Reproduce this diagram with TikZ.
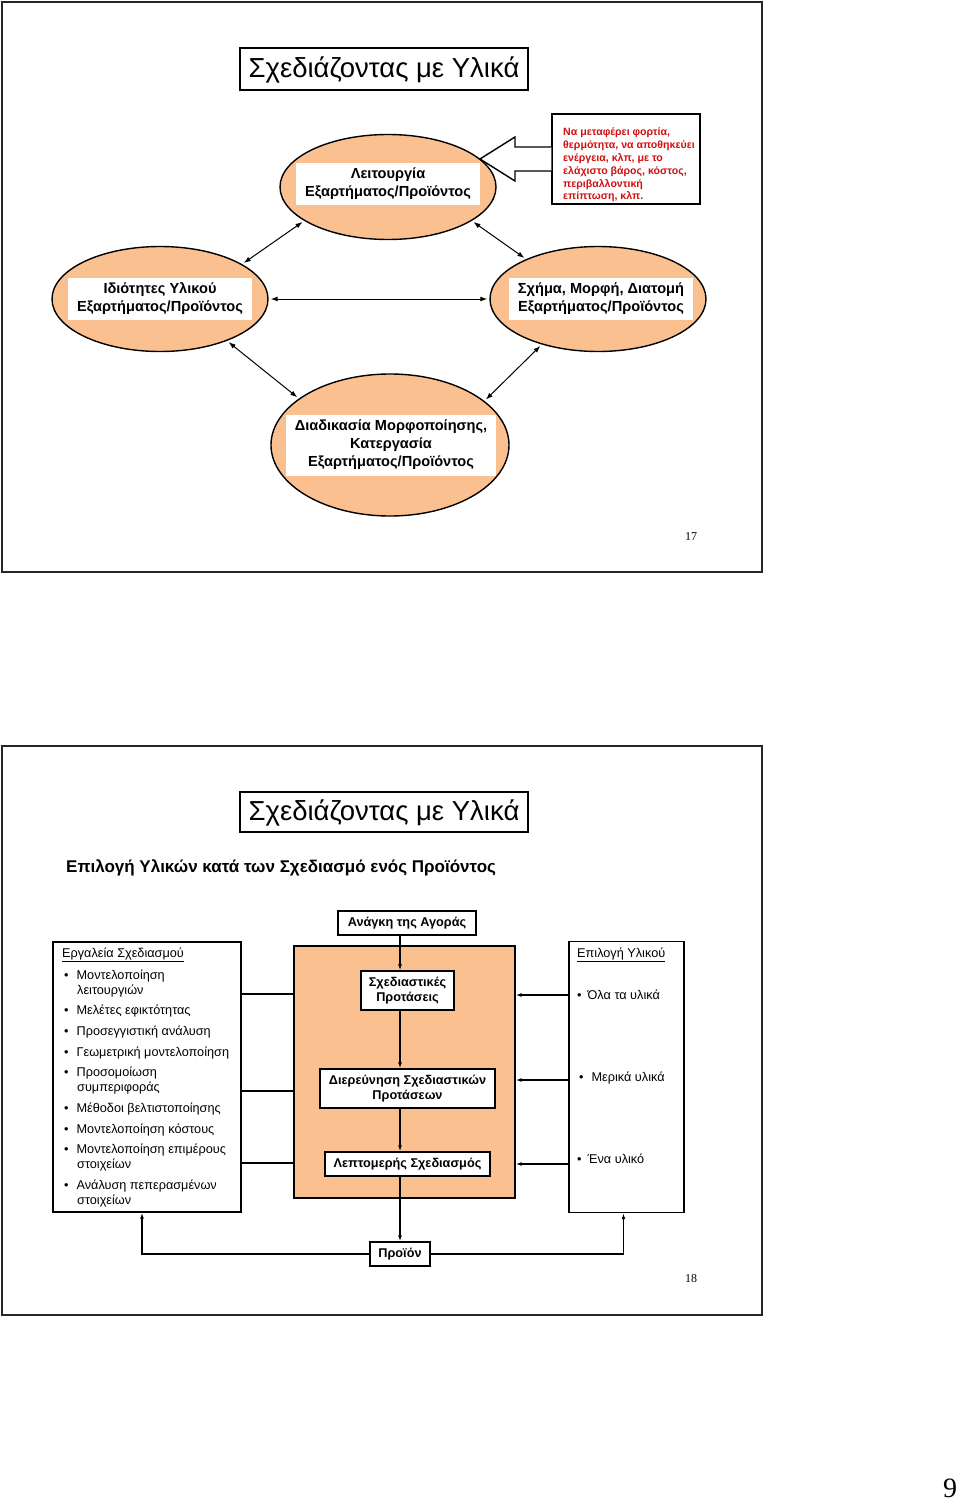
\documentclass[tikz,border=0pt]{standalone}
\usepackage{fontspec}
\setmainfont{Liberation Sans}
\newfontfamily\pagefont{Liberation Serif}
\usetikzlibrary{shapes.geometric,arrows.meta,positioning}
\definecolor{peach}{RGB}{250,192,144}
\definecolor{notered}{RGB}{208,16,16}
\tikzset{
  slide/.style = {draw, line width=2.4pt, color=black!85},
  titlebox/.style = {draw, line width=1.5pt, minimum width=288pt, minimum height=42pt, text depth=3pt, font=\fontsize{27.5}{32}\selectfont},
  blob/.style = {draw, ellipse, fill=peach, line width=1.4pt, minimum width=216pt, minimum height=105pt},
  inner/.style = {fill=white, align=center, font=\bfseries\fontsize{14.6}{18}\selectfont, minimum width=184pt, minimum height=42pt, inner sep=2pt},
  link/.style = {{Latex[length=7pt,width=5pt]}-{Latex[length=7pt,width=5pt]}, line width=1pt, shorten >=2pt, shorten <=2pt},
  stage/.style = {draw, fill=white, line width=1.4pt, align=center, font=\bfseries\fontsize{12.7}{15.5}\selectfont, inner sep=2pt},
  flow/.style = {-{Latex[length=6pt,width=4pt]}, line width=1.2pt},
  listitem/.style = {anchor=west, inner sep=0pt, font=\fontsize{12.7}{15}\selectfont},
  pagenum/.style = {font=\pagefont\fontsize{12}{14}\selectfont},
}
\begin{document}
\begin{tikzpicture}[x=1pt, y=-1pt]
\useasboundingbox (0,0) rectangle (960,1501);

% slide 17
\draw[slide] (2,2) rectangle (762,572);
\node[titlebox] (title1) at (384,69) {Σχεδιάζοντας με Υλικά};

\node[blob] (func) at (388,187) {};
\node[inner] (funclbl) at (388,183.5) {Λειτουργία\\Εξαρτήματος/Προϊόντος};
\node[blob] (props) at (160,299) {};
\node[inner] (propslbl) at (160,299) {Ιδιότητες Υλικού\\Εξαρτήματος/Προϊόντος};
\node[blob] (shape) at (598,299) {};
\node[inner] (shapelbl) at (601,299) {Σχήμα, Μορφή, Διατομή\\Εξαρτήματος/Προϊόντος};
\node[blob, minimum width=238pt, minimum height=142pt] (proc) at (390,445) {};
\node[inner, minimum width=210pt, minimum height=61pt] (proclbl) at (391,445) {Διαδικασία Μορφοποίησης,\\Κατεργασία\\Εξαρτήματος/Προϊόντος};

\node[draw, line width=1.4pt, minimum width=148pt, minimum height=90pt] (note) at (626,159) {};
\node[anchor=west, inner sep=0pt, align=left, font=\bfseries\fontsize{10.6}{12.8}\selectfont, text=notered] (notetxt) at (563,165)
  {Να μεταφέρει φορτία,\\θερμότητα, να αποθηκεύει\\ενέργεια, κλπ, με το\\ελάχιστο βάρος, κόστος,\\περιβαλλοντική\\επίπτωση, κλπ.};
% callout
\draw[fill=white, line width=1.4pt] (note.west |- 0,147) -- (515,147) -- (515,137) -- (480,159)
  -- (515,181) -- (515,171) -- (note.west |- 0,171);

\draw[link] (func.202) -- (props.23);
\draw[link] (func.338) -- (shape.151);
\draw[link] (props.east) -- (shape.west);
\draw[link] (props.328) -- (proc.153);
\draw[link] (shape.219) -- (proc.25);

\node[pagenum] (p17) at (691,537) {17};

% slide 18
\draw[slide] (2,746) rectangle (762,1315);
\node[titlebox, minimum height=40pt] (title2) at (384,812) {Σχεδιάζοντας με Υλικά};
\node[anchor=west, inner sep=0pt, font=\bfseries\fontsize{17}{20}\selectfont] (sub) at (66,868)
  {Επιλογή Υλικών κατά των Σχεδιασμό ενός Προϊόντος};

\node[draw, fill=peach, line width=1.4pt, minimum width=221pt, minimum height=252pt] (design) at (404.5,1072) {};
\node[stage, minimum width=138pt, minimum height=24pt] (market) at (407,923) {Ανάγκη της Αγοράς};
\node[stage, minimum width=93pt, minimum height=39pt] (prop) at (407.5,990.5) {Σχεδιαστικές\\Προτάσεις};
\node[stage, minimum width=175pt, minimum height=39pt] (explore) at (407.5,1088.5) {Διερεύνηση Σχεδιαστικών\\Προτάσεων};
\node[stage, minimum width=165pt, minimum height=24pt] (detail) at (407.5,1164) {Λεπτομερής Σχεδιασμός};
\node[stage, minimum width=60pt, minimum height=24pt] (product) at (400,1254) {Προϊόν};

\draw[flow] (market.south -| product) -- (prop.north -| product);
\draw[flow] (prop.south -| product) -- (explore.north -| product);
\draw[flow] (explore.south -| product) -- (detail.north -| product);
\draw[flow] (detail.south -| product) -- (product.north);

% design tools
\node[draw, line width=1.4pt, minimum width=188pt, minimum height=270pt] (tools) at (147,1077) {};
\node[listitem] (toolshead) at (62,955) {\underline{Εργαλεία Σχεδιασμού}};
\foreach \y/\txt in {976/Μοντελοποίηση, 1011/Μελέτες εφικτότητας, 1032/Προσεγγιστική ανάλυση,
    1053/Γεωμετρική μοντελοποίηση, 1073/Προσομοίωση, 1109/Μέθοδοι βελτιστοποίησης,
    1130/Μοντελοποίηση κόστους, 1150/Μοντελοποίηση επιμέρους, 1186/Ανάλυση πεπερασμένων}
  \node[listitem] at (64,\y) {•\hspace{8pt}\txt};
\foreach \y/\txt in {991/λειτουργιών, 1088/συμπεριφοράς, 1165/στοιχείων, 1201/στοιχείων}
  \node[listitem] at (77,\y) {\txt};

% material selection
\node[draw, line width=1.4pt, minimum width=115pt, minimum height=271pt] (materials) at (626.5,1077) {};
\node[listitem] (mathead) at (577,955) {\underline{Επιλογή Υλικού}};
\node[listitem] (all) at (577,995) {•\hspace{6pt}Όλα τα υλικά};
\node[listitem] (some) at (579,1078) {•\hspace{8pt}Μερικά υλικά};
\node[listitem] (one) at (577,1159) {•\hspace{6pt}Ένα υλικό};

\foreach \y in {994,1091,1163}
  \draw[line width=1.2pt] (tools.east |- 0,\y) -- (design.west |- 0,\y);
\foreach \y in {995,1080,1164}
  \draw[flow] (materials.west |- 0,\y) -- (design.east |- 0,\y);

\draw[flow] (product.west) -| ([xshift=-5pt]tools.south);
\draw[flow] (product.east) -| ([xshift=-3pt]materials.south);

\node[pagenum] (p18) at (691,1279) {18};
\node[font=\pagefont\fontsize{28}{32}\selectfont] (sheet) at (950,1488) {9};
\end{tikzpicture}
\end{document}
